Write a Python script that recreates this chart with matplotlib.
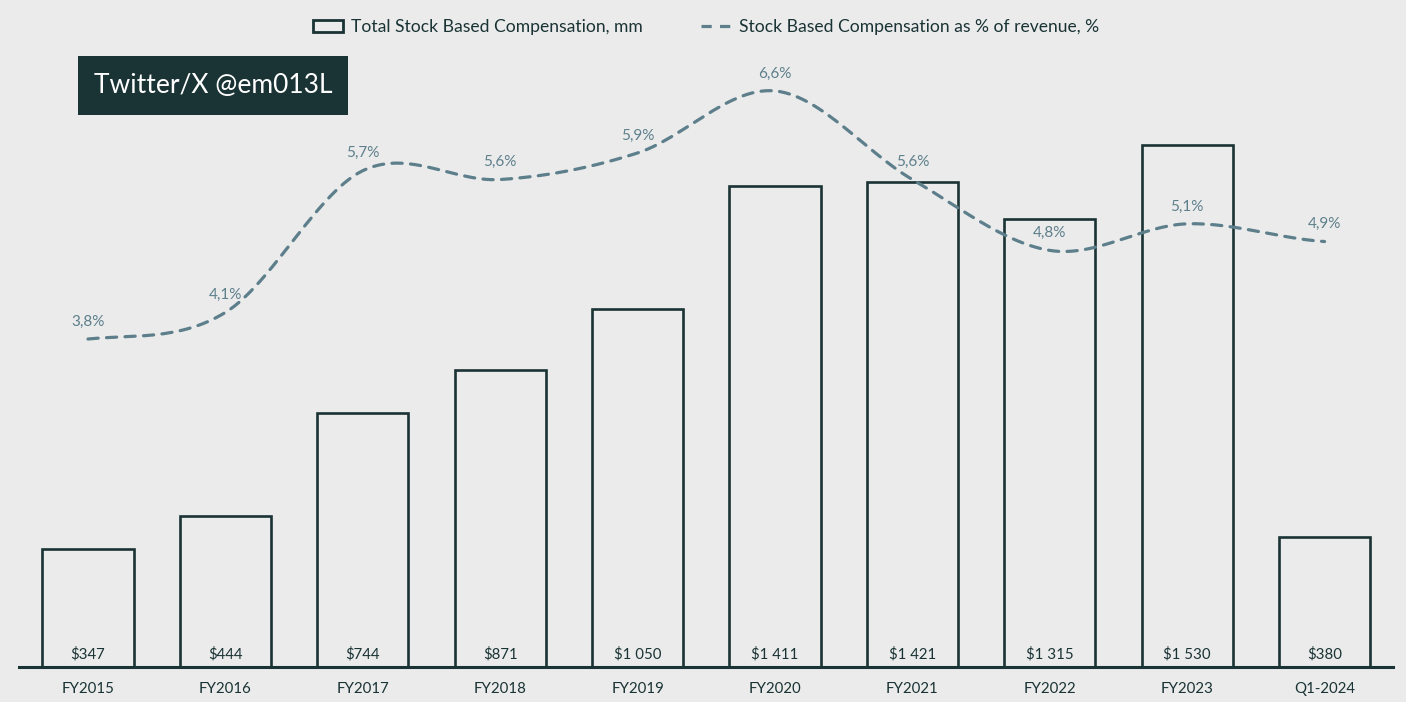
import numpy as np
import matplotlib
matplotlib.use("Agg")
import matplotlib.pyplot as plt
from matplotlib.patches import Rectangle
from matplotlib.lines import Line2D

categories = ["FY2015", "FY2016", "FY2017", "FY2018", "FY2019", "FY2020",
              "FY2021", "FY2022", "FY2023", "Q1-2024"]
sbc_mm = [347, 444, 744, 871, 1050, 1411, 1421, 1315, 1530, 380]
sbc_labels = ["$347", "$444", "$744", "$871", "$1 050", "$1 411", "$1 421",
              "$1 315", "$1 530", "$380"]
sbc_pct = [3.8, 4.1, 5.7, 5.6, 5.9, 6.6, 5.6, 4.8, 5.1, 4.9]
pct_labels = ["3,8%", "4,1%", "5,7%", "5,6%", "5,9%", "6,6%", "5,6%", "4,8%",
              "5,1%", "4,9%"]

BG = "#ebebeb"
DARK = "#1a3334"
LINE = "#5d7f8b"
FONT = ["Lato", "DejaVu Sans"]
plt.rcParams["font.family"] = FONT

W, H = 1406, 702
fig = plt.figure(figsize=(W / 100, H / 100), dpi=100, facecolor=BG)

left_px, right_px, base_px, top_px = 19.3, 1393.3, 667, 20
ax = fig.add_axes([left_px / W, (H - base_px) / H, (right_px - left_px) / W,
                   (base_px - top_px) / H])
ax.set_facecolor(BG)
ax_h = base_px - top_px
ax.set_xlim(-0.5, len(categories) - 0.5)
ax.set_ylim(0, ax_h / 0.341)

x = np.arange(len(categories))
ax.bar(x, sbc_mm, width=0.665, facecolor=BG, edgecolor=DARK, linewidth=1.9,
       zorder=2)
for xi, lab in zip(x, sbc_labels):
    ax.annotate(lab, (xi, 0), xytext=(0, 4), textcoords="offset points",
                ha="center", va="bottom", fontsize=10.8, color=DARK, zorder=5)

for s in ["top", "right", "left"]:
    ax.spines[s].set_visible(False)
ax.spines["bottom"].set_color(DARK)
ax.spines["bottom"].set_linewidth(2.2)
ax.set_yticks([])
ax.set_xticks(x)
ax.set_xticklabels(categories, fontsize=10.8, color=DARK)
ax.tick_params(axis="x", length=0, pad=11)

# secondary axis for the percentage line
ax2 = ax.twinx()
px_per_pct = 88.6
bottom_val = 3.8 - (base_px - 339) / px_per_pct
ax2.set_ylim(bottom_val, bottom_val + ax_h / px_per_pct)
ax2.axis("off")


def smooth(xs, ys, n=30):
    xs = np.asarray(xs, float)
    ys = np.asarray(ys, float)
    px = np.concatenate([[2 * xs[0] - xs[1]], xs, [2 * xs[-1] - xs[-2]]])
    py = np.concatenate([[ys[0]], ys, [ys[-1]]])
    outx, outy = [], []
    t = np.linspace(0, 1, n)
    for i in range(1, len(px) - 2):
        p0, p1, p2, p3 = py[i - 1], py[i], py[i + 1], py[i + 2]
        q0, q1, q2, q3 = px[i - 1], px[i], px[i + 1], px[i + 2]
        fy = 0.5 * ((2 * p1) + (-p0 + p2) * t + (2 * p0 - 5 * p1 + 4 * p2 - p3) * t ** 2
                    + (-p0 + 3 * p1 - 3 * p2 + p3) * t ** 3)
        fx = 0.5 * ((2 * q1) + (-q0 + q2) * t + (2 * q0 - 5 * q1 + 4 * q2 - q3) * t ** 2
                    + (-q0 + 3 * q1 - 3 * q2 + q3) * t ** 3)
        outx.append(fx[:-1] if i < len(px) - 3 else fx)
        outy.append(fy[:-1] if i < len(px) - 3 else fy)
    return np.concatenate(outx), np.concatenate(outy)


sx, sy = smooth(x, sbc_pct)
ax2.plot(sx, sy, color=LINE, linewidth=2.3, linestyle=(0, (3.2, 2.6)),
         dash_capstyle="round", zorder=3)
for xi, v, lab in zip(x, sbc_pct, pct_labels):
    ax2.annotate(lab, (xi, v), xytext=(0, 7.5), textcoords="offset points",
                 ha="center", va="bottom", fontsize=11, color=LINE, zorder=5)

# legend
h1 = Rectangle((0, 0), 1, 1, facecolor=BG, edgecolor=DARK, linewidth=2.0)
h2 = Line2D([0], [0], color=LINE, linewidth=2.3, linestyle=(0, (3.2, 2.6)))
leg = fig.legend([h1, h2], ["Total Stock Based Compensation, mm",
                            "Stock Based Compensation as % of revenue, %"],
                 loc="center", bbox_to_anchor=(0.5 + 3 / W, 1 - 27 / H), ncol=2,
                 frameon=False, fontsize=12.6, handlelength=1.75,
                 handleheight=0.62, handletextpad=0.45, columnspacing=3.3)
for t in leg.get_texts():
    t.set_color(DARK)

# watermark
fig.patches.append(Rectangle((78 / W, 1 - 115 / H), 270 / W, 59 / H,
                             transform=fig.transFigure, facecolor=DARK,
                             edgecolor="none", zorder=4))
fig.text(213 / W, 1 - 86 / H, "Twitter/X @em013L", ha="center", va="center",
         fontsize=19, color="white", zorder=5)

fig.savefig("out.png", dpi=100, facecolor=BG)
